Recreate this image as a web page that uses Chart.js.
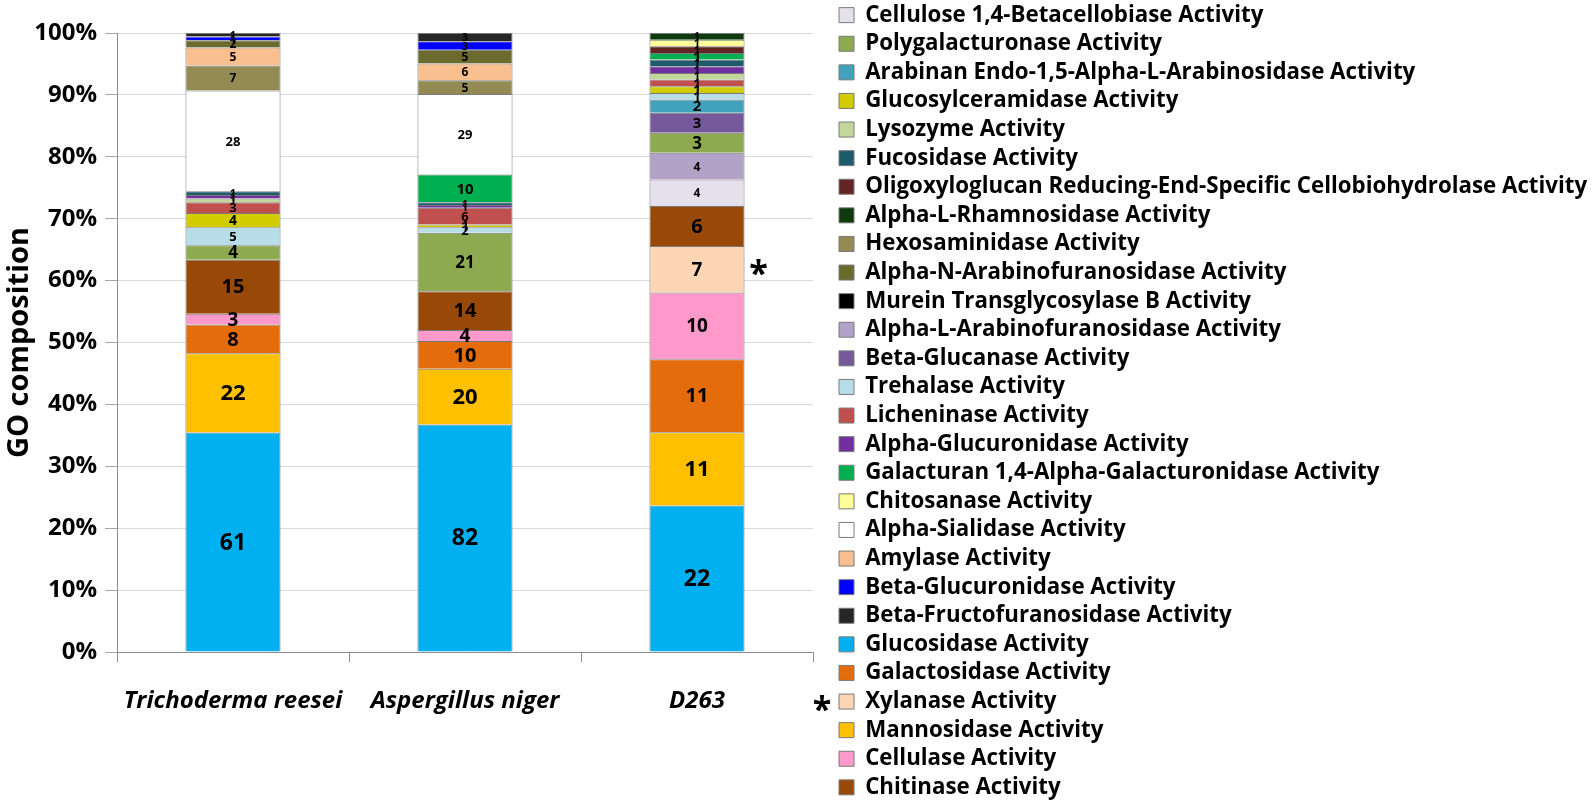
<!DOCTYPE html>
<html>
<head>
<meta charset="utf-8">
<script src="https://cdn.jsdelivr.net/npm/chart.js@4.4.1/dist/chart.umd.min.js"></script>
<style>
  html, body { margin: 0; padding: 0; background: #fff; }
  #wrap { width: 1594px; height: 803px; position: relative; }
</style>
</head>
<body>
<div id="wrap"><canvas id="goChart"></canvas></div>
<script>
const organisms = ['Trichoderma reesei', 'Aspergillus niger', 'D263'];

// activities in stacking order, bottom to top
const activities = [
  'Glucosidase Activity',
  'Mannosidase Activity',
  'Galactosidase Activity',
  'Cellulase Activity',
  'Xylanase Activity',
  'Chitinase Activity',
  'Cellulose 1,4-Betacellobiase Activity',
  'Alpha-L-Arabinofuranosidase Activity',
  'Polygalacturonase Activity',
  'Beta-Glucanase Activity',
  'Arabinan Endo-1,5-Alpha-L-Arabinosidase Activity',
  'Trehalase Activity',
  'Glucosylceramidase Activity',
  'Licheninase Activity',
  'Lysozyme Activity',
  'Alpha-Glucuronidase Activity',
  'Fucosidase Activity',
  'Galacturan 1,4-Alpha-Galacturonidase Activity',
  'Oligoxyloglucan Reducing-End-Specific Cellobiohydrolase Activity',
  'Chitosanase Activity',
  'Alpha-L-Rhamnosidase Activity',
  'Alpha-Sialidase Activity',
  'Hexosaminidase Activity',
  'Amylase Activity',
  'Alpha-N-Arabinofuranosidase Activity',
  'Murein Transglycosylase B Activity',
  'Beta-Glucuronidase Activity',
  'Beta-Fructofuranosidase Activity'
];

// gene counts per activity (same order as above)
const trichodermaCounts = [61, 22, 8, 3, 0, 15, 0, 0, 4, 0, 0, 5, 4, 3, 1, 1, 1, 0, 0, 0, 0, 28, 7, 5, 2, 0, 1, 1];
const aspergillusCounts = [82, 20, 10, 4, 0, 14, 0, 0, 21, 0, 0, 2, 1, 6, 0, 1, 1, 10, 0, 0, 0, 29, 5, 6, 5, 0, 3, 3];
const d263Counts        = [22, 11, 11, 10, 7, 6, 4, 4, 3, 3, 2, 1, 1, 1, 1, 1, 1, 1, 1, 1, 1, 0, 0, 0, 0, 0, 0, 0];

const colors = [
  '#00B0F0', '#FFC000', '#E46C0A', '#FF99CC', '#FCD5B5', '#984807',
  '#E6E0EC', '#B3A2C7', '#8EAA50', '#76599A', '#43A2BB', '#B7DEE8',
  '#D0CC00', '#C0504D', '#C3D69B', '#7030A0', '#1F5C6B', '#00B050',
  '#632523', '#FFFF99', '#0D3B0D', '#FFFFFF', '#948A54', '#FABF8F',
  '#6B6B2E', '#000000', '#0000FF', '#262626'
];

// font size of the count printed on each series
const labelSizes = [23, 22, 20, 19, 19, 20, 12, 12, 17, 15, 15, 13, 14, 13, 11, 11, 11, 15, 11, 11, 11, 13, 12, 12, 12, 11, 11, 11];

// order of the legend entries, top to bottom
const legendOrder = [
  'Cellulose 1,4-Betacellobiase Activity',
  'Polygalacturonase Activity',
  'Arabinan Endo-1,5-Alpha-L-Arabinosidase Activity',
  'Glucosylceramidase Activity',
  'Lysozyme Activity',
  'Fucosidase Activity',
  'Oligoxyloglucan Reducing-End-Specific Cellobiohydrolase Activity',
  'Alpha-L-Rhamnosidase Activity',
  'Hexosaminidase Activity',
  'Alpha-N-Arabinofuranosidase Activity',
  'Murein Transglycosylase B Activity',
  'Alpha-L-Arabinofuranosidase Activity',
  'Beta-Glucanase Activity',
  'Trehalase Activity',
  'Licheninase Activity',
  'Alpha-Glucuronidase Activity',
  'Galacturan 1,4-Alpha-Galacturonidase Activity',
  'Chitosanase Activity',
  'Alpha-Sialidase Activity',
  'Amylase Activity',
  'Beta-Glucuronidase Activity',
  'Beta-Fructofuranosidase Activity',
  'Glucosidase Activity',
  'Galactosidase Activity',
  'Xylanase Activity',
  'Mannosidase Activity',
  'Cellulase Activity',
  'Chitinase Activity'
];

const yTicks = [0, 10, 20, 30, 40, 50, 60, 70, 80, 90, 100];
const markedActivity = 'Xylanase Activity';
const markedOrganism = 'D263';

const FONT = '"Open Sans", "DejaVu Sans", sans-serif';
const LEGEND_SIZE = 22.3;
Chart.defaults.font.family = FONT;
Chart.defaults.color = '#000';

const countsByOrganism = [trichodermaCounts, aspergillusCounts, d263Counts];
const totals = countsByOrganism.map(c => c.reduce((s, v) => s + v, 0));

const datasets = activities.map((name, k) => ({
  label: name,
  data: countsByOrganism.map((c, i) => c[k] > 0 ? c[k] / totals[i] * 100 : null),
  counts: countsByOrganism.map(c => c[k]),
  backgroundColor: colors[k],
  borderColor: '#7a7a7a',
  borderWidth: 1,
  xAxisID: 'x',
  yAxisID: 'y'
}));

// prints the gene count in the middle of each segment
const countLabels = {
  id: 'countLabels',
  afterDatasetsDraw(chart) {
    const ctx = chart.ctx;
    ctx.save();
    ctx.textAlign = 'center';
    ctx.textBaseline = 'middle';
    ctx.fillStyle = '#000';
    chart.data.datasets.forEach((ds, k) => {
      const meta = chart.getDatasetMeta(k);
      ctx.font = 'bold ' + labelSizes[k] + 'px ' + FONT;
      meta.data.forEach((bar, i) => {
        const n = ds.counts[i];
        if (!n) return;
        ctx.fillText(String(n), bar.x, (bar.y + bar.base) / 2 + 1);
      });
    });
    ctx.restore();
  }
};

// asterisks next to the marked segment and its legend entry
const asterisks = {
  id: 'asterisks',
  afterDraw(chart) {
    const ctx = chart.ctx;
    const k = activities.indexOf(markedActivity);
    const bar = chart.getDatasetMeta(k).data[organisms.indexOf(markedOrganism)];
    ctx.save();
    ctx.font = 'bold 34px ' + FONT;
    ctx.fillStyle = '#000';
    ctx.textAlign = 'center';
    ctx.textBaseline = 'alphabetic';
    ctx.fillText('*', bar.x + bar.width / 2 + 14, (bar.y + bar.base) / 2 - 3 + 19);
    const legend = chart.legend;
    const idx = legend.legendItems.findIndex(it => it.text[0] === markedActivity);
    const hb = legend.legendHitBoxes[idx];
    if (hb) {
      ctx.fillText('*', hb.left - 17, hb.top + LEGEND_SIZE / 2 + 19);
    }
    ctx.restore();
  }
};

new Chart(document.getElementById('goChart'), {
  type: 'bar',
  data: { labels: organisms, datasets: datasets },
  options: {
    responsive: true,
    maintainAspectRatio: false,
    animation: false,
    layout: { padding: { top: 3, left: 0, right: 0, bottom: -4 } },
    datasets: { bar: { categoryPercentage: 1, barPercentage: 0.41 } },
    plugins: {
      tooltip: { enabled: false },
      legend: {
        position: 'right',
        align: 'start',
        maxWidth: 756,
        labels: {
          boxWidth: 15,
          boxHeight: 15,
          padding: 1,
          color: '#000',
          font: { family: FONT, size: LEGEND_SIZE, weight: 'bold', lineHeight: 27.6 / LEGEND_SIZE },
          generateLabels(chart) {
            const items = Chart.defaults.plugins.legend.labels.generateLabels(chart);
            items.forEach(it => { it.text = [it.text]; });
            return items;
          },
          sort: (a, b) => legendOrder.indexOf(a.text[0]) - legendOrder.indexOf(b.text[0])
        }
      }
    },
    scales: {
      x: {
        stacked: true,
        grid: { display: true, drawOnChartArea: false, offset: true, tickLength: 10, color: '#8c8c8c' },
        border: { color: '#8c8c8c' },
        ticks: { padding: 25, font: { size: 24, weight: 'bold', style: 'italic' }, color: '#000' },
        afterFit: s => { s.height = 155; }
      },
      xTop: {
        type: 'category',
        position: 'top',
        grid: { display: false },
        border: { display: false },
        ticks: { display: false },
        afterFit: s => { s.height = 30; }
      },
      y: {
        stacked: true,
        min: 0,
        max: 100,
        afterBuildTicks: s => { s.ticks = yTicks.map(v => ({ value: v })); },
        ticks: { padding: 8, callback: v => v + '%', font: { size: 24, weight: 'bold' }, color: '#000' },
        grid: { color: '#d9d9d9', tickColor: '#a6a6a6', tickLength: 12 },
        border: { color: '#8c8c8c' },
        title: {
          display: true,
          text: 'GO composition',
          color: '#000',
          font: { size: 29, weight: 'bold' },
          padding: { top: 2, bottom: 0 }
        },
        afterFit: s => { s.width = 117; }
      },
      yRight: {
        position: 'right',
        grid: { display: false },
        border: { display: false },
        ticks: { display: false },
        afterFit: s => { s.width = 25; }
      }
    }
  },
  plugins: [countLabels, asterisks]
});
</script>
</body>
</html>
